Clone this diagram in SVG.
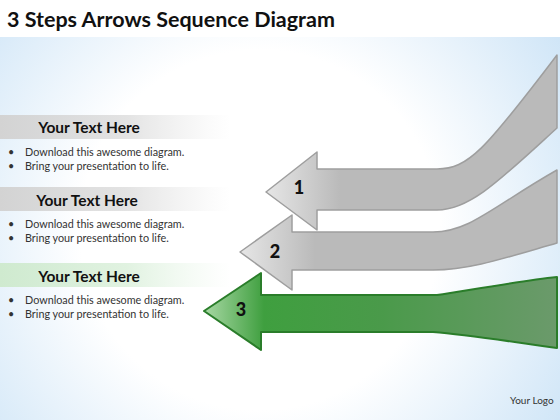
<svg xmlns="http://www.w3.org/2000/svg" width="560" height="420" viewBox="0 0 560 420">
<defs>
<radialGradient id="bg" cx="260" cy="230" r="360" gradientUnits="userSpaceOnUse">
<stop offset="0" stop-color="#ffffff"/>
<stop offset="0.5" stop-color="#ffffff"/>
<stop offset="1" stop-color="#cfe5f7"/>
</radialGradient>
<linearGradient id="bandGray" x1="0" y1="0" x2="1" y2="0">
<stop offset="0" stop-color="#d3d3d3"/>
<stop offset="0.55" stop-color="#dcdcdc" stop-opacity="0.8"/>
<stop offset="1" stop-color="#e6e6e6" stop-opacity="0"/>
</linearGradient>
<linearGradient id="bandGreen" x1="0" y1="0" x2="1" y2="0">
<stop offset="0" stop-color="#cfeacf"/>
<stop offset="0.55" stop-color="#d9efd9" stop-opacity="0.8"/>
<stop offset="1" stop-color="#e4f4e4" stop-opacity="0"/>
</linearGradient>
<linearGradient id="g1" gradientUnits="userSpaceOnUse" x1="266" y1="0" x2="340" y2="0">
<stop offset="0" stop-color="#e6e6e6"/>
<stop offset="1" stop-color="#bababa"/>
</linearGradient>
<linearGradient id="g2" gradientUnits="userSpaceOnUse" x1="240" y1="0" x2="315" y2="0">
<stop offset="0" stop-color="#e6e6e6"/>
<stop offset="1" stop-color="#bababa"/>
</linearGradient>
<linearGradient id="g3" gradientUnits="userSpaceOnUse" x1="204" y1="0" x2="557" y2="0">
<stop offset="0" stop-color="#a8d8a4"/>
<stop offset="0.17" stop-color="#3f9f3f"/>
<stop offset="0.5" stop-color="#4a9a4a"/>
<stop offset="1" stop-color="#6b9a6b"/>
</linearGradient>
<style>
.title{font-family:Lato,"Liberation Sans",sans-serif;font-weight:bold;font-size:21.5px;fill:#111}
.hdr{font-family:Lato,"Liberation Sans",sans-serif;font-weight:bold;font-size:15.5px;fill:#111;text-anchor:middle}
.body{font-family:Lato,"Liberation Sans",sans-serif;font-size:10.8px;fill:#333}
.num{font-family:Lato,"Liberation Sans",sans-serif;font-weight:900;font-size:18px;fill:#111;text-anchor:middle}
.logo{font-family:Lato,"Liberation Sans",sans-serif;font-size:10px;fill:#333}
.gray{stroke:#9e9e9e;stroke-width:1.5;stroke-linejoin:round}
.green{stroke:#2a7d2a;stroke-width:2;stroke-linejoin:round}
</style>
</defs>
<rect x="0" y="0" width="560" height="420" fill="#ffffff"/>
<rect x="0" y="37" width="560" height="383" fill="url(#bg)"/>
<text class="title" x="7" y="27">3 Steps Arrows Sequence Diagram</text>

<g id="text1">
<rect x="0" y="115" width="230" height="24" fill="url(#bandGray)"/>
<text class="hdr" x="89" y="133">Your Text Here</text>
<text class="body" x="8" y="156">•</text>
<text class="body" x="25" y="156">Download this awesome diagram.</text>
<text class="body" x="8" y="170">•</text>
<text class="body" x="25" y="170">Bring your presentation to life.</text>
</g>
<g id="text2">
<rect x="0" y="187" width="230" height="24" fill="url(#bandGray)"/>
<text class="hdr" x="87" y="206">Your Text Here</text>
<text class="body" x="8" y="228">•</text>
<text class="body" x="25" y="228">Download this awesome diagram.</text>
<text class="body" x="8" y="242">•</text>
<text class="body" x="25" y="242">Bring your presentation to life.</text>
</g>
<g id="text3">
<rect x="0" y="263" width="230" height="24" fill="url(#bandGreen)"/>
<text class="hdr" x="89" y="282">Your Text Here</text>
<text class="body" x="8" y="304">•</text>
<text class="body" x="25" y="304">Download this awesome diagram.</text>
<text class="body" x="8" y="318">•</text>
<text class="body" x="25" y="318">Bring your presentation to life.</text>
</g>

<g id="arrow1">
<path class="gray" fill="url(#g1)" d="M266,192 L317,152 L317,169 L437,169 C468,169 485,150 557,55 L557,128 C500,180 470,210 437,210 L317,210 L317,230 Z"/>
<text class="num" x="299" y="194">1</text>
</g>
<g id="arrow2">
<path class="gray" fill="url(#g2)" d="M240,252 L292,215 L292,232 L433,232 C470,232 495,205 557,170 L557,243 C505,258 470,270 433,270 L292,270 L292,290 Z"/>
<text class="num" x="275" y="258">2</text>
</g>
<g id="arrow3">
<path class="green" fill="url(#g3)" d="M204,311 L261,273 L261,295 L437,295 C470,290 520,281 557,277 L557,348 C520,343 470,335 433,332 L261,332 L261,350 Z"/>
<text class="num" x="241" y="316">3</text>
</g>

<text class="logo" x="510" y="404">Your Logo</text>
</svg>
